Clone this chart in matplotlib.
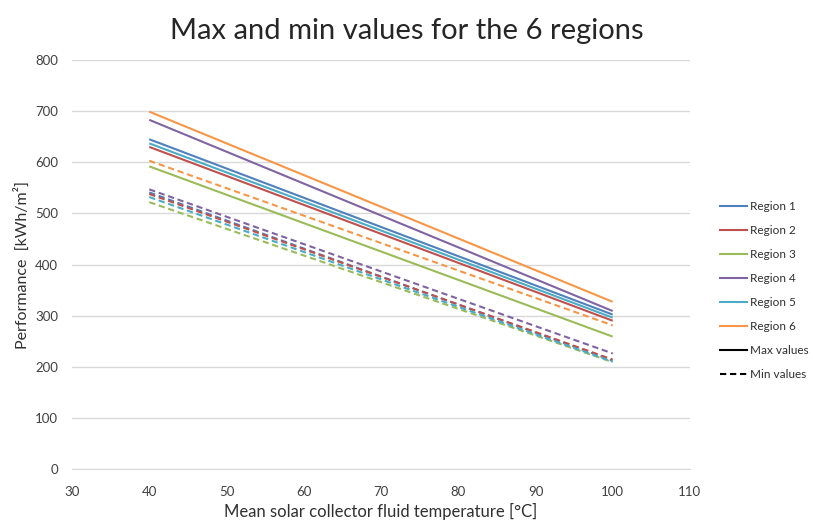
import matplotlib
matplotlib.use("Agg")
import matplotlib.pyplot as plt
from matplotlib.lines import Line2D

plt.rcParams['font.family'] = ['Lato', 'DejaVu Sans']

x_vals = [40, 100]
regions = ["Region 1", "Region 2", "Region 3", "Region 4", "Region 5", "Region 6"]
colors = ["#4F81BD", "#C0504D", "#9BBB59", "#8064A2", "#4BACC6", "#F79646"]
max_values = {
    "Region 1": [645, 302],
    "Region 2": [630, 290],
    "Region 3": [592, 259],
    "Region 4": [683, 309],
    "Region 5": [637, 296],
    "Region 6": [699, 327],
}
min_values = {
    "Region 1": [541, 212],
    "Region 2": [538, 214],
    "Region 3": [522, 209],
    "Region 4": [547, 226],
    "Region 5": [532, 210],
    "Region 6": [603, 281],
}

fig = plt.figure(figsize=(8.13, 5.21), dpi=100)
ax = fig.add_axes([0.0886, 0.0998, 0.760, 0.785])

for reg, col in zip(regions, colors):
    ax.plot(x_vals, max_values[reg], color=col, lw=1.5, solid_capstyle='butt')
for reg, col in zip(regions, colors):
    ax.plot(x_vals, min_values[reg], color=col, lw=1.5, ls=(0, (3, 1.8)))

ax.set_xlim(30, 110)
ax.set_ylim(0, 800)
ax.set_xticks(range(30, 111, 10))
ax.set_yticks(range(0, 801, 100))
ax.grid(axis='y', color='#D9D9D9', lw=1)
ax.set_axisbelow(True)
for s in ['top', 'right', 'left']:
    ax.spines[s].set_visible(False)
ax.spines['bottom'].set_color('#D9D9D9')
ax.tick_params(axis='both', length=0, labelsize=9.5, colors='#404040')
ax.tick_params(axis='x', pad=12)
ax.tick_params(axis='y', pad=10)

ax.set_xlabel("Mean solar collector fluid temperature [°C]", fontsize=12, color='#303030', labelpad=4)
ax.set_ylabel("Performance  [kWh/m²]", fontsize=11.5, color='#303030', labelpad=4)
fig.suptitle("Max and min values for the 6 regions", fontsize=21, color='#262626', y=0.965)

handles = [Line2D([0], [0], color=c, lw=1.5) for c in colors]
handles += [Line2D([0], [0], color='black', lw=1.5),
            Line2D([0], [0], color='black', lw=1.5, ls=(0, (3, 1.8)))]
labels = regions + ["Max values", "Min values"]
fig.legend(handles, labels, loc='center left', bbox_to_anchor=(0.874, 0.443),
           frameon=False, fontsize=8.5, handlelength=2.3, handletextpad=0.2,
           labelspacing=1.1, labelcolor='#303030', borderpad=0.3)

fig.savefig("out.png", dpi=100)
